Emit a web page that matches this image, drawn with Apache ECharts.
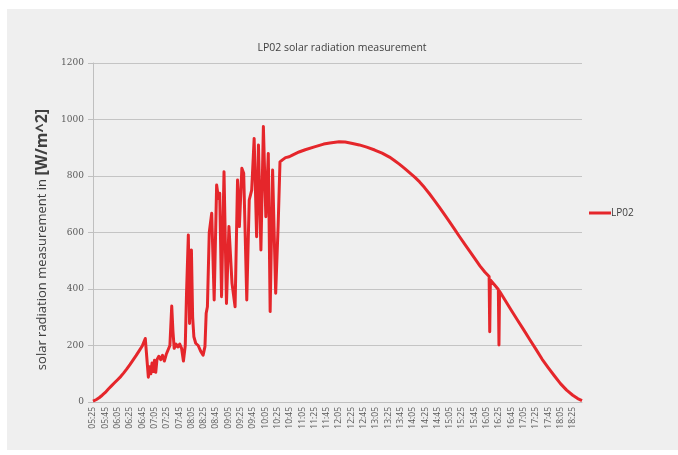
<!DOCTYPE html>
<html>
<head>
<meta charset="utf-8">
<script src="https://cdn.jsdelivr.net/npm/echarts@6/dist/echarts.min.js"></script>
<style>html,body{margin:0;padding:0;background:#fff;}#c{width:678px;height:455px;}</style>
</head>
<body>
<div id="c"></div>
<script>
const chartTitle = 'LP02 solar radiation measurement';
const seriesName = 'LP02';
const times = [
'05:25','05:30','05:35','05:40','05:45','05:50','05:55','06:00','06:05','06:10','06:15','06:20','06:25','06:30','06:35','06:40','06:45','06:50','06:55','06:57','06:59','07:01','07:03','07:05','07:07','07:09','07:12','07:15','07:18','07:21','07:24','07:27','07:30','07:33','07:35','07:37','07:40','07:43','07:46','07:49','07:52','07:55','07:57','08:00','08:02','08:05','08:07','08:09','08:12','08:16','08:20','08:24','08:27','08:29','08:31','08:34','08:38','08:42','08:46','08:49','08:51','08:54','08:58','09:02','09:06','09:11','09:16','09:20','09:23','09:27','09:30','09:35','09:39','09:43','09:47','09:51','09:54','09:58','10:02','10:06','10:10','10:13','10:17','10:22','10:26','10:29','10:33','10:38','10:44','10:50','11:00','11:10','11:25','11:40','11:50','12:05','12:15','12:25','12:38','12:50','13:03','13:15','13:27','13:35','13:43','13:52','14:00','14:08','14:16','14:24','14:32','14:40','14:48','14:56','15:05','15:13','15:21','15:29','15:37','15:45','15:54','16:02','16:09','16:10','16:11','16:18','16:24','16:25','16:26','16:35','16:45','16:55','17:05','17:15','17:25','17:35','17:45','17:55','18:05','18:15','18:25','18:33','18:40'
];
const values = [
3,8,15,24,34,46,57,68,79,90,103,117,132,148,164,181,198,225,88,125,100,138,108,148,105,150,162,150,165,145,168,172,200,340,250,190,205,195,205,190,145,200,380,591,278,538,300,231,208,200,180,166,196,314,337,600,668,361,768,720,739,373,815,349,621,420,337,786,621,827,810,361,715,750,933,585,910,538,975,656,880,320,821,385,625,850,857,865,868,875,885,893,903,913,917,921,920,916,910,902,892,881,867,855,842,826,811,796,779,759,737,714,690,665,637,611,585,560,535,510,482,460,444,249,432,414,398,202,392,360,325,290,256,221,187,152,122,93,65,42,24,12,5
];
const startTime = '05:25';
const endTime = '18:40';
const lastLabelTime = '18:25';
const yTicks = [0,200,400,600,800,1000,1200];

function toMin(s){const p=s.split(':');return (+p[0])*60+(+p[1]);}
function fmt(m){const h=Math.floor(m/60),mm=m%60;return (h<10?'0':'')+h+':'+(mm<10?'0':'')+mm;}
const t0 = toMin(startTime);
const xMax = toMin(endTime)-t0;
const xLastLabel = toMin(lastLabelTime)-t0;
const data = times.map((t,i)=>[toMin(t)-t0, values[i]]);

const chart = echarts.init(document.getElementById('c'), null, {renderer:'canvas'});
const FONT = '"Open Sans", "DejaVu Sans", sans-serif';
chart.setOption({
  backgroundColor: '#ffffff',
  animation: false,
  graphic: [{type:'rect', z:-10, silent:true, shape:{x:7,y:9,width:671,height:441}, style:{fill:'#efefef'}}],
  title: {text: chartTitle, left: 337, textAlign:'center', top: 38,
    textStyle:{fontFamily:FONT, fontSize:10.5, fontWeight:'normal', color:'#404040'}},
  legend: {orient:'vertical', left: 584, top: 203, itemWidth: 22, itemHeight: 10, itemGap: 4,
    textStyle:{fontFamily:FONT, fontSize:10, color:'#404040', padding:[0,0,0,-5]},
    data:[{name: seriesName, icon: 'path://M0,4 L22,4 L22,7 L0,7 Z'}]},
  grid: {left: 93, right: 96, top: 63, bottom: 53, containLabel:false},
  xAxis: {type:'value', min:0, max:xMax, interval:20,
    axisLine:{show:true, lineStyle:{color:'#bfbfbf', width:1}},
    axisTick:{show:false}, splitLine:{show:false},
    axisLabel:{rotate:90, fontFamily:FONT, fontSize:8.5, color:'#595959', margin:5, showMaxLabel:false,
      formatter: v => (v%20===0 && v<=xLastLabel) ? fmt(v+t0) : ''}},
  yAxis: {type:'value', min:yTicks[0], max:yTicks[yTicks.length-1], interval:200,
    name: '{a|solar radiation measurement in }{b|[W/m^2]}',
    nameLocation:'middle', nameGap: 34, nameRotate: 90,
    nameTextStyle:{rich:{a:{fontFamily:FONT, fontSize:13, color:'#404040'}, b:{fontFamily:FONT, fontSize:16, fontWeight:'bold', color:'#404040', padding:[0,14,0,0]}}},
    axisLine:{show:true, lineStyle:{color:'#bfbfbf', width:1}},
    axisTick:{show:true, length:5, lineStyle:{color:'#bfbfbf'}},
    splitLine:{show:true, lineStyle:{color:'#c4c4c4', width:1}},
    axisLabel:{fontFamily:'"DejaVu Serif", serif', fontSize:9, color:'#595959', margin:9,
      formatter: v => String(v)}},
  series: [{name: seriesName, type:'line', data: data, symbol:'none', showSymbol:false,
    lineStyle:{color:'#e5262b', width:3, join:'round'}, itemStyle:{color:'#e5262b'}}]
});
</script>
</body>
</html>
